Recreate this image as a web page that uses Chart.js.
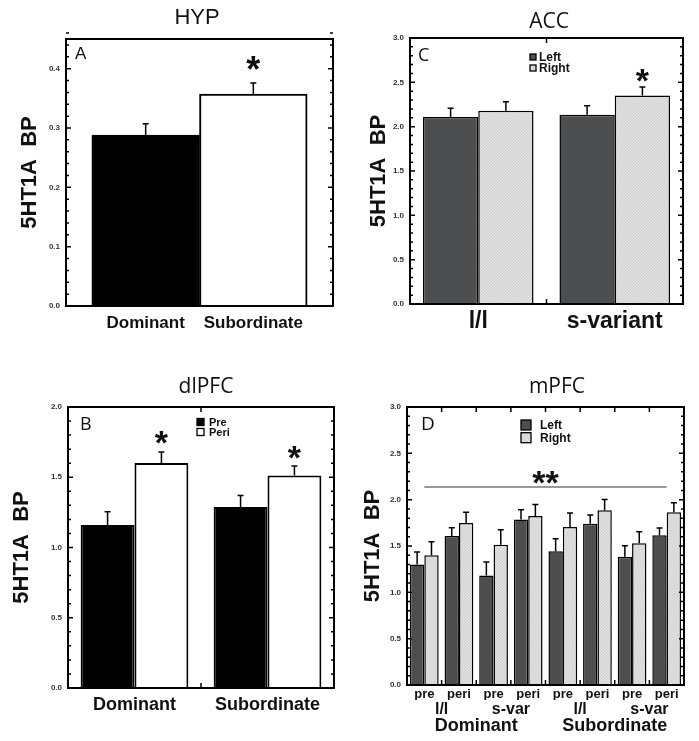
<!DOCTYPE html>
<html>
<head>
<meta charset="utf-8">
<script src="https://cdn.jsdelivr.net/npm/chart.js@4.4.1/dist/chart.umd.min.js"></script>
<style>
body { margin: 0; background: #fff; }
#fig { position: relative; width: 699px; height: 741px; }
canvas { position: absolute; }
</style>
</head>
<body>
<div id="fig">
  <canvas id="hyp" width="350" height="345" style="left:0;top:0"></canvas>
  <canvas id="acc" width="349" height="345" style="left:350px;top:0"></canvas>
  <canvas id="dlpfc" width="350" height="381" style="left:0;top:360px"></canvas>
  <canvas id="mpfc" width="349" height="381" style="left:350px;top:360px"></canvas>
</div>
<script>
// Datos
const hypGroups = ["Dominant", "Subordinate"];
const hypMean = [0.288, 0.357];
const hypErr = [0.019, 0.019];

const accGroups = ["l/l", "s-variant"];
const accLeft = [2.11, 2.135];
const accLeftErr = [0.097, 0.10];
const accRight = [2.18, 2.352];
const accRightErr = [0.10, 0.095];

const dlpfcGroups = ["Dominant", "Subordinate"];
const dlpfcPre = [1.16, 1.288];
const dlpfcPreErr = [0.094, 0.082];
const dlpfcPeri = [1.602, 1.513];
const dlpfcPeriErr = [0.078, 0.067];

const mpfcTime = ["pre", "peri", "pre", "peri", "pre", "peri", "pre", "peri"];
const mpfcGeno = ["l/l", "s-var", "l/l", "s-var"];
const mpfcRank = ["Dominant", "Subordinate"];
const mpfcLeft = [1.30, 1.607, 1.183, 1.787, 1.442, 1.741, 1.385, 1.615];
const mpfcLeftErr = [0.136, 0.091, 0.144, 0.105, 0.137, 0.093, 0.119, 0.079];
const mpfcRight = [1.399, 1.748, 1.514, 1.823, 1.705, 1.885, 1.529, 1.863];
const mpfcRightErr = [0.148, 0.115, 0.162, 0.126, 0.151, 0.118, 0.126, 0.105];

// Estilos
const SANS = "'Liberation Sans', Arial, sans-serif";
const OPEN = "'Open Sans', 'Liberation Sans', sans-serif";
const DARK = "#4d4e50";

// fuente angosta para el título del eje, si existe
function hasFont(name) {
  const g = document.createElement("canvas").getContext("2d");
  g.font = "bold 26px monospace";
  const w1 = g.measureText("5HT1A BP").width;
  g.font = "bold 26px '" + name + "', monospace";
  return g.measureText("5HT1A BP").width !== w1;
}
const yTitleFont = hasFont("Liberation Sans Narrow")
  ? { family: "'Liberation Sans Narrow'", size: 26, weight: "bold" }
  : { family: SANS, size: 22, weight: "bold" };

function hatch() {
  const c = document.createElement("canvas");
  c.width = 3;
  c.height = 3;
  const g = c.getContext("2d");
  g.fillStyle = "#e0e0e0";
  g.fillRect(0, 0, 3, 3);
  g.fillStyle = "#cfcfcf";
  for (let i = 0; i < 3; i++) g.fillRect(i, 2 - i, 1, 1);
  return g.createPattern(c, "repeat");
}
const LIGHT = hatch();

Chart.defaults.font.family = SANS;
Chart.defaults.color = "#111";

/* marco, ticks, barras de error, textos */
const decor = {
  id: "decor",

  afterDatasetsDraw(chart) {
    const ctx = chart.ctx;
    const y = chart.scales.y;
    ctx.save();
    ctx.strokeStyle = "#000";
    ctx.lineWidth = 1.5;
    chart.data.datasets.forEach((ds, di) => {
      if (!ds.errors) return;
      chart.getDatasetMeta(di).data.forEach((bar, i) => {
        const d = ds.data[i];
        const v = typeof d === "object" ? d.y : d;
        const top = y.getPixelForValue(v + ds.errors[i]);
        ctx.beginPath();
        ctx.moveTo(bar.x, bar.y);
        ctx.lineTo(bar.x, top);
        ctx.moveTo(bar.x - 3, top);
        ctx.lineTo(bar.x + 3, top);
        ctx.stroke();
      });
    });
    ctx.restore();
  },

  afterDraw(chart, args, o) {
    const ctx = chart.ctx;
    const a = chart.chartArea;
    const x = chart.scales.x;
    const y = chart.scales.y;
    ctx.save();

    // MARCO
    ctx.strokeStyle = "#000";
    ctx.lineWidth = 2;
    ctx.strokeRect(a.left, a.top, a.right - a.left, a.bottom - a.top);

    // TICKS HACIA ADENTRO
    ctx.lineWidth = 1.5;
    ctx.beginPath();
    const n = Math.round(y.max / o.minor);
    const per = Math.round(o.major / o.minor);
    for (let k = 0; k <= n; k++) {
      const py = y.getPixelForValue(k * o.minor);
      const len = k % per === 0 ? 5 : 3;
      ctx.moveTo(a.left, py);
      ctx.lineTo(a.left + len, py);
      ctx.moveTo(a.right, py);
      ctx.lineTo(a.right - len, py);
    }
    if (o.splitTicks) {
      const cats = x.getLabels().length;
      for (let i = 1; i < cats; i++) {
        const px = (x.getPixelForValue(i - 1) + x.getPixelForValue(i)) / 2;
        ctx.moveTo(px, a.bottom);
        ctx.lineTo(px, a.bottom - 5);
        ctx.moveTo(px, a.top);
        ctx.lineTo(px, a.top + 5);
      }
    }
    ctx.stroke();

    // LINEA DE SIGNIFICANCIA
    if (o.bracket) {
      const b = o.bracket;
      const py = y.getPixelForValue(b.v);
      ctx.strokeStyle = "#9a9a9a";
      ctx.lineWidth = 2;
      ctx.beginPath();
      ctx.moveTo(x.getPixelForValue(b.from), py);
      ctx.lineTo(x.getPixelForValue(b.to), py);
      ctx.stroke();
    }

    // ESTRELLAS
    ctx.fillStyle = "#111";
    ctx.textAlign = "center";
    ctx.textBaseline = "alphabetic";
    (o.stars || []).forEach(s => {
      ctx.font = "bold " + s.size + "px " + SANS;
      let px;
      if (s.ds !== undefined) px = chart.getDatasetMeta(s.ds).data[s.i].x;
      else px = (x.getPixelForValue(s.from) + x.getPixelForValue(s.to)) / 2;
      ctx.fillText(s.text, px, y.getPixelForValue(s.v) + 0.5 * s.size);
    });

    // LEYENDA
    if (o.legend) {
      const L = o.legend;
      ctx.font = "bold " + L.size + "px " + SANS;
      ctx.textAlign = "left";
      ctx.textBaseline = "middle";
      chart.data.datasets.forEach((ds, i) => {
        const cy = L.y + i * L.gap;
        ctx.fillStyle = ds.backgroundColor;
        ctx.fillRect(L.x, cy - L.box / 2, L.box, L.box);
        ctx.strokeStyle = "#000";
        ctx.lineWidth = 1.3;
        ctx.strokeRect(L.x, cy - L.box / 2, L.box, L.box);
        ctx.fillStyle = "#111";
        ctx.fillText(ds.label, L.x + L.box + L.pad, cy + 0.5);
      });
    }

    // TITULO Y LETRA
    ctx.fillStyle = "#111";
    ctx.textBaseline = "middle";
    ctx.textAlign = "center";
    ctx.font = o.title.font;
    ctx.fillText(o.title.text, o.title.x, o.title.y);
    ctx.textAlign = "left";
    ctx.textBaseline = "alphabetic";
    ctx.font = o.letter.font;
    ctx.fillText(o.letter.text, a.left + o.letter.dx, a.top + o.letter.dy);

    ctx.restore();
  }
};

function yAxis(max, step, width, titlePad) {
  return {
    min: 0,
    max: max,
    afterBuildTicks: s => {
      s.ticks = s.ticks.filter(t => Math.abs(t.value / step - Math.round(t.value / step)) < 1e-6);
    },
    ticks: {
      stepSize: step,
      callback: v => v.toFixed(1),
      font: { family: SANS, size: 8, weight: "bold" },
      color: "#333",
      padding: 6
    },
    grid: { display: false, drawTicks: false },
    border: { display: false },
    title: {
      display: true,
      text: "5HT1A  BP",
      font: yTitleFont,
      color: "#111",
      padding: { top: titlePad, bottom: 0 }
    },
    afterFit: s => { s.width = width; }
  };
}

function xCat(font, pad, height, extra) {
  return Object.assign({
    type: "category",
    offset: true,
    grid: { display: false, drawTicks: false },
    border: { display: false },
    ticks: { font: font, color: "#111", padding: pad, maxRotation: 0, autoSkip: false },
    afterFit: s => { s.height = height; }
  }, extra || {});
}

const base = {
  responsive: false,
  animation: false,
  devicePixelRatio: 1
};

/* A - HYP */
new Chart(document.getElementById("hyp"), {
  type: "bar",
  data: {
    datasets: [{
      data: hypMean.map((v, i) => ({ x: i + 1, y: v })),
      errors: hypErr,
      backgroundColor: ["#000", "#fff"],
      borderColor: "#000",
      borderWidth: 2,
      barPercentage: 1,
      categoryPercentage: 1
    }]
  },
  options: Object.assign({}, base, {
    layout: { padding: { top: 39, right: 17, left: 0, bottom: 0 } },
    scales: {
      x: {
        type: "linear",
        min: 0.26,
        max: 2.74,
        offset: false,
        afterBuildTicks: s => { s.ticks = hypGroups.map((g, i) => ({ value: i + 1 })); },
        grid: { display: false, drawTicks: false },
        border: { display: false },
        ticks: {
          callback: (v, i) => hypGroups[i],
          font: { family: SANS, size: 17, weight: "bold" },
          color: "#111",
          padding: 7,
          maxRotation: 0,
          autoSkip: false
        },
        afterFit: s => { s.height = 39; }
      },
      y: yAxis(0.45, 0.1, 66, 17)
    },
    plugins: {
      legend: { display: false },
      tooltip: { enabled: false },
      decor: {
        major: 0.1, minor: 0.02,
        title: { text: "HYP", x: 197, y: 18, font: "22px " + SANS },
        letter: { text: "A", dx: 9, dy: 20, font: "17px " + SANS },
        stars: [{ ds: 0, i: 1, v: 0.408, text: "*", size: 36 }]
      }
    }
  }),
  plugins: [decor]
});

/* C - ACC */
new Chart(document.getElementById("acc"), {
  type: "bar",
  data: {
    labels: accGroups,
    datasets: [
      { label: "Left", data: accLeft, errors: accLeftErr, backgroundColor: DARK, borderColor: "#000", borderWidth: 1.5, barPercentage: 1, categoryPercentage: 0.81 },
      { label: "Right", data: accRight, errors: accRightErr, backgroundColor: LIGHT, borderColor: "#000", borderWidth: 1.5, barPercentage: 1, categoryPercentage: 0.81 }
    ]
  },
  options: Object.assign({}, base, {
    layout: { padding: { top: 38, right: 16, left: 0, bottom: 0 } },
    scales: {
      x: xCat({ family: SANS, size: 23, weight: "bold" }, 4, 41),
      y: yAxis(3.0, 0.5, 60, 16)
    },
    plugins: {
      legend: { display: false },
      tooltip: { enabled: false },
      decor: {
        major: 0.5, minor: 0.1, splitTicks: true,
        title: { text: "ACC", x: 199, y: 22, font: "21px " + OPEN },
        letter: { text: "C", dx: 8, dy: 23, font: "18px " + OPEN },
        legend: { x: 180, y: 57, gap: 11, box: 6, pad: 3, size: 12 },
        stars: [{ ds: 1, i: 1, v: 2.586, text: "*", size: 34 }]
      }
    }
  }),
  plugins: [decor]
});

/* B - dlPFC */
new Chart(document.getElementById("dlpfc"), {
  type: "bar",
  data: {
    labels: dlpfcGroups,
    datasets: [
      { label: "Pre", data: dlpfcPre, errors: dlpfcPreErr, backgroundColor: "#000", borderColor: "#000", borderWidth: 2, barPercentage: 1, categoryPercentage: 0.81 },
      { label: "Peri", data: dlpfcPeri, errors: dlpfcPeriErr, backgroundColor: "#fff", borderColor: "#000", borderWidth: 2, barPercentage: 1, categoryPercentage: 0.81 }
    ]
  },
  options: Object.assign({}, base, {
    layout: { padding: { top: 47, right: 16, left: 0, bottom: 0 } },
    scales: {
      x: xCat({ family: SANS, size: 18, weight: "bold" }, 6, 53),
      y: yAxis(2.0, 0.5, 68, 9)
    },
    plugins: {
      legend: { display: false },
      tooltip: { enabled: false },
      decor: {
        major: 0.5, minor: 0.1, splitTicks: true,
        title: { text: "dlPFC", x: 206, y: 27, font: "21px " + OPEN },
        letter: { text: "B", dx: 12, dy: 23, font: "18px " + OPEN },
        legend: { x: 197, y: 62, gap: 10, box: 7, pad: 5, size: 11 },
        stars: [
          { ds: 1, i: 0, v: 1.787, text: "*", size: 34 },
          { ds: 1, i: 1, v: 1.68, text: "*", size: 34 }
        ]
      }
    }
  }),
  plugins: [decor]
});

/* D - mPFC */
new Chart(document.getElementById("mpfc"), {
  type: "bar",
  data: {
    labels: mpfcTime,
    datasets: [
      { label: "Left", data: mpfcLeft, errors: mpfcLeftErr, backgroundColor: DARK, borderColor: "#000", borderWidth: 1.5, barPercentage: 1, categoryPercentage: 0.83 },
      { label: "Right", data: mpfcRight, errors: mpfcRightErr, backgroundColor: LIGHT, borderColor: "#000", borderWidth: 1.5, barPercentage: 1, categoryPercentage: 0.83 }
    ]
  },
  options: Object.assign({}, base, {
    layout: { padding: { top: 47, right: 15, left: 0, bottom: 0 } },
    scales: {
      x: xCat({ family: SANS, size: 13, weight: "bold" }, 2, 15, { weight: 0 }),
      x2: xCat({ family: SANS, size: 16, weight: "bold" }, 0, 14, { labels: mpfcGeno, position: "bottom", weight: 1 }),
      x3: xCat({ family: SANS, size: 18, weight: "bold" }, 1, 27, { labels: mpfcRank, position: "bottom", weight: 2 }),
      y: yAxis(3.0, 0.5, 57, 10)
    },
    plugins: {
      legend: { display: false },
      tooltip: { enabled: false },
      decor: {
        major: 0.5, minor: 0.1, splitTicks: true,
        title: { text: "mPFC", x: 207, y: 27, font: "21px " + OPEN },
        letter: { text: "D", dx: 14, dy: 23, font: "19px " + OPEN },
        legend: { x: 171, y: 65, gap: 12.7, box: 10, pad: 9, size: 12 },
        bracket: { from: 0, to: 7, v: 2.136 },
        stars: [{ from: 0, to: 7, v: 2.244, text: "**", size: 34 }]
      }
    }
  }),
  plugins: [decor]
});
</script>
</body>
</html>
